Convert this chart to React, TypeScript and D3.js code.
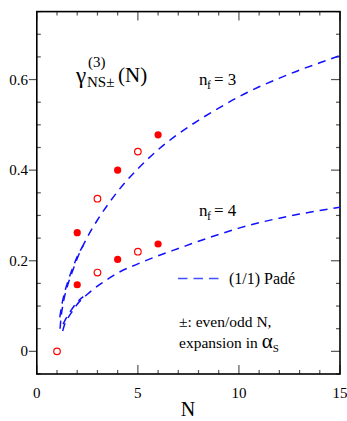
import React from 'react';
import * as d3 from 'd3';

// 数据点 (N, gamma)
const filled3 = [[2, 0.262], [4, 0.4], [6, 0.478]];
const open3 = [[3, 0.337], [5, 0.441]];
const filled4 = [[2, 0.147], [4, 0.203], [6, 0.237]];
const open4 = [[1, 0.0], [3, 0.174], [5, 0.22]];

// (1/1) Padé 曲线
const pade3 = [
  [1.15, 0.05], [1.2, 0.075], [1.3, 0.105], [1.5, 0.142], [1.75, 0.175], [2, 0.205],
  [2.5, 0.252], [3, 0.29], [3.5, 0.323], [4, 0.353], [5, 0.403], [6, 0.445],
  [7, 0.48], [8, 0.51], [9, 0.537], [10, 0.562], [11, 0.584], [12, 0.603],
  [13, 0.621], [14, 0.637], [15, 0.653],
];
const pade3b = [[1.14, 0.075], [1.2, 0.093], [1.3, 0.116], [1.5, 0.149], [1.75, 0.181], [2, 0.209], [2.3, 0.234]];
const pade4 = [
  [1.28, 0.045], [1.35, 0.056], [1.5, 0.07], [1.75, 0.088], [2, 0.104], [2.5, 0.126],
  [3, 0.144], [3.6, 0.162], [4, 0.173], [5, 0.193], [6, 0.211], [7, 0.227],
  [8, 0.243], [9, 0.258], [10, 0.272], [11, 0.284], [12, 0.294], [13, 0.303],
  [14, 0.311], [15, 0.318],
];
const pade4b = [[1.3, 0.06], [1.4, 0.069], [1.5, 0.077], [1.75, 0.094], [2, 0.109], [2.3, 0.121]];

const xTicks = [0, 5, 10, 15];
const yTicks = [0, 0.2, 0.4, 0.6];

const App: React.FC = () => {
  const width = 347;
  const height = 421;
  const left = 36.8;
  const right = 340;
  const top = 11.6;
  const bottom = 374;

  const x = d3.scaleLinear().domain([0, 15]).range([left, right]);
  const y = d3.scaleLinear().domain([-0.05, 0.75]).range([bottom, top]);

  const line = d3.line<number[]>()
    .x((d) => x(d[0]))
    .y((d) => y(d[1]))
    .curve(d3.curveMonotoneX);

  const xMinor = d3.range(0, 16, 1);
  const yMinor = d3.range(-0.05, 0.751, 0.05);
  const blue = '#1010ff';
  const red = '#ff0000';
  const font = 'Liberation Serif, DejaVu Serif, serif';

  return (
    <svg width={width} height={height} style={{ position: 'absolute', left: 0, top: 0, fontFamily: font }}>
      <rect x={0} y={0} width={width} height={height} fill="#fff" />

      {/* 刻度 */}
      {xMinor.map((v) => {
        const major = v % 5 === 0;
        const len = major ? 9 : 4;
        return (
          <g key={'xt' + v} stroke="#555" strokeWidth={1.2}>
            <line x1={x(v)} x2={x(v)} y1={bottom} y2={bottom - len} />
            <line x1={x(v)} x2={x(v)} y1={top} y2={top + len} />
          </g>
        );
      })}
      {yMinor.map((v, i) => {
        const major = Math.abs(Math.round(v * 10) - v * 10) < 1e-6 && Math.round(v * 10) % 2 === 0;
        return (
          <g key={'yt' + i} stroke="#555" strokeWidth={1.2}>
            {major ? (
              <line x1={left - 8} x2={left} y1={y(v)} y2={y(v)} />
            ) : (
              <line x1={left} x2={left + 4} y1={y(v)} y2={y(v)} />
            )}
            <line x1={right} x2={right - (major ? 9 : 4)} y1={y(v)} y2={y(v)} />
          </g>
        );
      })}

      {/* 坐标框 */}
      <rect x={left} y={top} width={right - left} height={bottom - top} fill="none" stroke="#000" strokeWidth={1.6} />

      {/* 刻度标签 */}
      {xTicks.map((v) => (
        <text key={'xl' + v} x={x(v)} y={398} textAnchor="middle" style={{ fontFamily: font }} fontSize={15}>{v}</text>
      ))}
      {yTicks.map((v) => (
        <text key={'yl' + v} x={28} y={y(v) + 5} textAnchor="end" style={{ fontFamily: font }} fontSize={15}>{v === 0 ? '0' : d3.format('.1f')(v)}</text>
      ))}
      <text x={188} y={416} textAnchor="middle" style={{ fontFamily: font }} fontSize={20}>N</text>

      {/* 曲线 */}
      {[pade3, pade3b, pade4, pade4b].map((d, i) => (
        <path key={'c' + i} d={line(d) || ''} fill="none" stroke={blue} strokeWidth={1.5} strokeDasharray="8,6" />
      ))}

      {/* 点 */}
      {[...filled3, ...filled4].map((d, i) => (
        <circle key={'f' + i} cx={x(d[0])} cy={y(d[1])} r={3.6} fill={red} />
      ))}
      {[...open3, ...open4].map((d, i) => (
        <circle key={'o' + i} cx={x(d[0])} cy={y(d[1])} r={3.3} fill="none" stroke={red} strokeWidth={1.2} />
      ))}

      {/* 标题 */}
      <text style={{ fontFamily: font }} fill="#000">
        <tspan x={76} y={83} fontSize={23}>γ</tspan>
        <tspan x={87} y={87} fontSize={15}>NS±</tspan>
        <tspan x={118} y={82} fontSize={21}>(N)</tspan>
        <tspan x={88} y={67} fontSize={15}>(3)</tspan>
      </text>

      <text style={{ fontFamily: font }} fontSize={17} fill="#000">
        <tspan x={199} y={85}>n</tspan>
        <tspan x={207} y={89} fontSize={12}>f</tspan>
        <tspan x={214} y={85}>= 3</tspan>
      </text>
      <text style={{ fontFamily: font }} fontSize={17} fill="#000">
        <tspan x={199} y={216}>n</tspan>
        <tspan x={207} y={220} fontSize={12}>f</tspan>
        <tspan x={214} y={216}>= 4</tspan>
      </text>

      {/* 图例 */}
      <line x1={178} x2={219} y1={278.5} y2={278.5} stroke="#4050ff" strokeWidth={1.5} strokeDasharray="9.5,6" />
      <text x={229} y={284} style={{ fontFamily: font }} fontSize={16}>(1/1) Padé</text>
      <text x={179} y={327} style={{ fontFamily: font }} fontSize={15.5}>±: even/odd N,</text>
      <text style={{ fontFamily: font }} fontSize={15.5}>
        <tspan x={179} y={348}>expansion in </tspan>
        <tspan fontSize={21}>α</tspan>
        <tspan fontSize={11} dy={4}>S</tspan>
      </text>
    </svg>
  );
};

export default App;
